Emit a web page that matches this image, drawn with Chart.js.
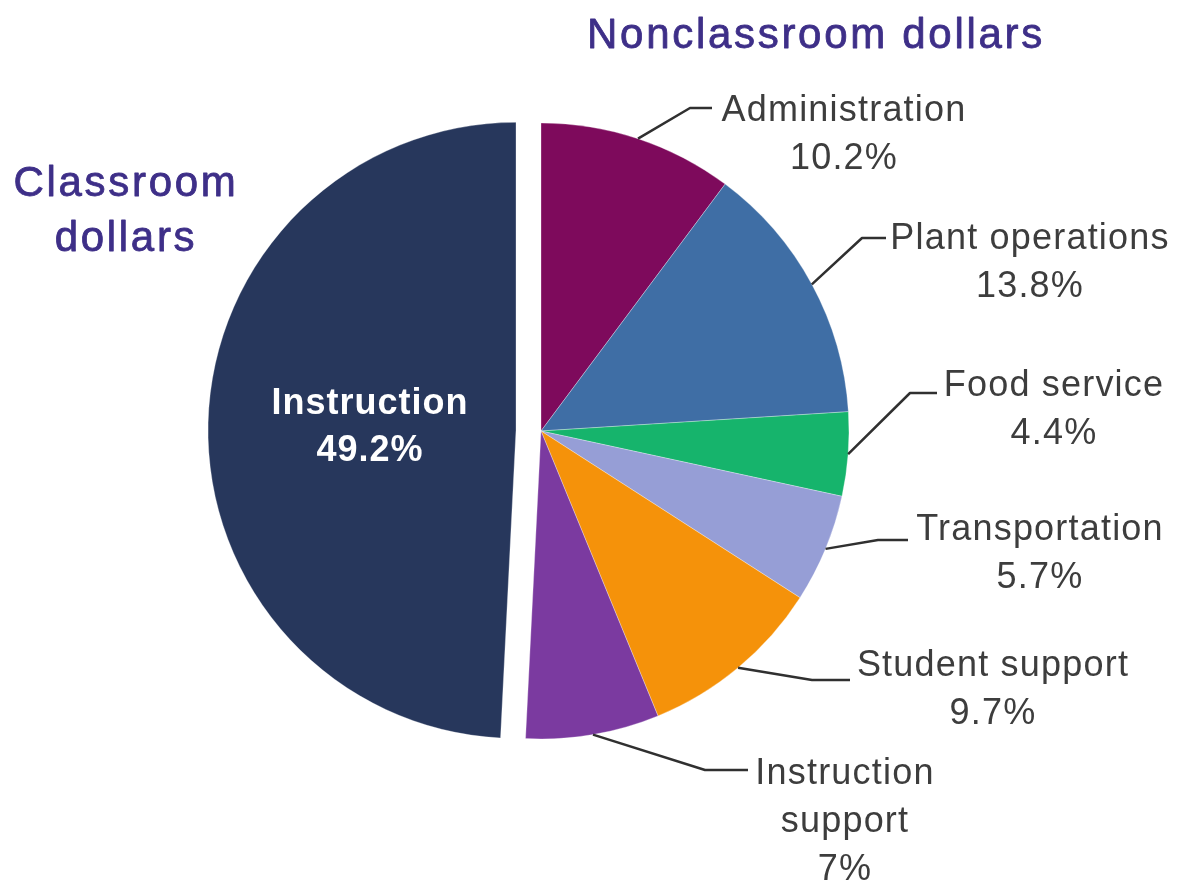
<!DOCTYPE html>
<html>
<head>
<meta charset="utf-8">
<script src="https://cdn.jsdelivr.net/npm/chart.js@4/dist/chart.umd.min.js"></script>
<style>
html, body { margin: 0; padding: 0; background: #ffffff; }
#chart { display: block; }
</style>
</head>
<body>
<canvas id="chart" width="1182" height="884"></canvas>
<script>
// data, clockwise from 12 o'clock
var categories = ['Administration', 'Plant operations', 'Food service', 'Transportation', 'Student support', 'Instruction support', 'Instruction'];
var labelLines = [['Administration'], ['Plant operations'], ['Food service'], ['Transportation'], ['Student support'], ['Instruction', 'support'], ['Instruction']];
var shares = [10.2, 13.8, 4.4, 5.7, 9.7, 7, 49.2];
var sliceColors = ['#7e0a5c', '#3f6ea5', '#16b46c', '#969ed6', '#f5920a', '#7b3aa0', '#27375c'];
var explode = [0, 0, 0, 0, 0, 0, 25];
var groupTitles = [['Nonclassroom dollars'], ['Classroom', 'dollars']];

// where the outside labels sit (text centre, first baseline) and the elbow of each leader
var leaders = [
	{tx: 844, ty: 121, ex: 690, ey: 108, hx: 712},
	{tx: 1030, ty: 249, ex: 862, ey: 238, hx: 886},
	{tx: 1054, ty: 396, ex: 910, ey: 393, hx: 937},
	{tx: 1040, ty: 540, ex: 878, ey: 540, hx: 908},
	{tx: 993, ty: 676, ex: 812, ey: 680, hx: 850},
	{tx: 845, ty: 784, ex: 705, ey: 770, hx: 748}
];

var FONT = '"Liberation Sans", Arial, Helvetica, sans-serif';

function pct(v) {
	return v + '%';
}

// pull a slice out along its bisector (Chart.js offset also grows the radius, we don't want that)
var explodePlugin = {
	id: 'explode',
	afterDatasetsUpdate: function(chart) {
		var arcs = chart.getDatasetMeta(0).data;
		for (var i = 0; i < arcs.length; i++) {
			if (!explode[i]) continue;
			var mid = (arcs[i].startAngle + arcs[i].endAngle) / 2;
			arcs[i].x += Math.cos(mid) * explode[i];
			arcs[i].y += Math.sin(mid) * explode[i];
		}
	}
};

var labelPlugin = {
	id: 'sliceLabels',
	afterDatasetsDraw: function(chart) {
		var ctx = chart.ctx;
		var arcs = chart.getDatasetMeta(0).data;
		ctx.save();

		// leaders + outside labels
		ctx.strokeStyle = '#303030';
		ctx.lineWidth = 2.5;
		ctx.lineJoin = 'round';
		ctx.fillStyle = '#3d3d3d';
		ctx.font = '36px ' + FONT;
		ctx.letterSpacing = '1.2px';
		ctx.textAlign = 'center';
		ctx.textBaseline = 'alphabetic';
		for (var i = 0; i < leaders.length; i++) {
			var arc = arcs[i];
			var L = leaders[i];
			var mid = (arc.startAngle + arc.endAngle) / 2;
			var sx = arc.x + Math.cos(mid) * arc.outerRadius;
			var sy = arc.y + Math.sin(mid) * arc.outerRadius;
			ctx.beginPath();
			ctx.moveTo(sx, sy);
			ctx.lineTo(L.ex, L.ey);
			ctx.lineTo(L.hx, L.ey);
			ctx.stroke();
			var lines = labelLines[i].concat([pct(shares[i])]);
			for (var k = 0; k < lines.length; k++) {
				ctx.fillText(lines[k], L.tx, L.ty + k * 48);
			}
		}

		// big slice label inside
		var big = arcs[6];
		var p = big.getCenterPoint();
		ctx.fillStyle = '#ffffff';
		ctx.font = 'bold 36px ' + FONT;
		ctx.letterSpacing = '1px';
		ctx.textBaseline = 'middle';
		ctx.fillText(labelLines[6][0], p.x + 8, p.y - 22);
		ctx.fillText(pct(shares[6]), p.x + 8, p.y + 25);

		// group headings, a touch heavier than regular
		ctx.fillStyle = '#3e2f88';
		ctx.strokeStyle = '#3e2f88';
		ctx.lineWidth = 0.8;
		ctx.font = '42px ' + FONT;
		ctx.letterSpacing = '2.7px';
		ctx.textBaseline = 'alphabetic';
		var heads = [[groupTitles[0][0], 816, 48], [groupTitles[1][0], 126, 196], [groupTitles[1][1], 126, 251]];
		for (var h = 0; h < heads.length; h++) {
			ctx.fillText(heads[h][0], heads[h][1], heads[h][2]);
			ctx.strokeText(heads[h][0], heads[h][1], heads[h][2]);
		}

		ctx.restore();
	}
};

var ctx = document.getElementById('chart').getContext('2d');
var pieChart = new Chart(ctx, {
	type: 'pie',
	data: {
		labels: categories,
		datasets: [{
			data: shares,
			backgroundColor: sliceColors,
			borderColor: 'rgba(255,255,255,0.3)',
			borderWidth: 1
		}]
	},
	options: {
		responsive: false,
		devicePixelRatio: 1,
		animation: false,
		radius: 308,
		layout: {padding: {left: 0, top: 0, right: 100, bottom: 22}},
		plugins: {
			legend: {display: false},
			tooltip: {enabled: false}
		},
		events: []
	},
	plugins: [explodePlugin, labelPlugin]
});
</script>
</body>
</html>
